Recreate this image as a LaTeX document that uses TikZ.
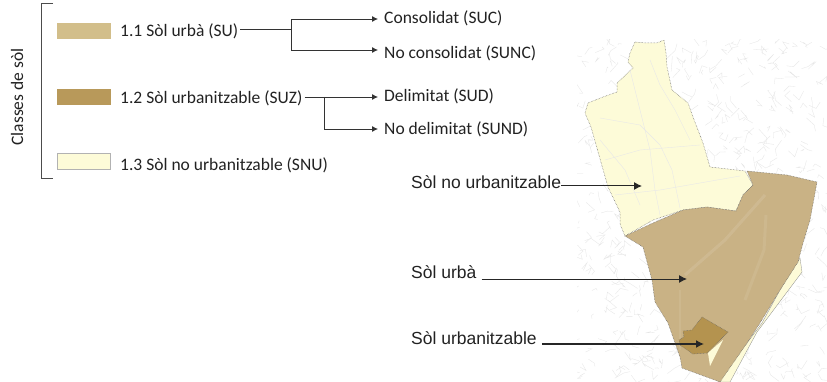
\documentclass[tikz,border=0pt]{standalone}
\usepackage{fontspec}
\setmainfont{Carlito}
\newfontfamily\arialfont{Liberation Sans}
\usetikzlibrary{arrows.meta}
\definecolor{suc}{HTML}{D2BE8A}
\definecolor{suzc}{HTML}{B8995A}
\definecolor{snuc}{HTML}{FDFBD8}
\definecolor{mapsu}{HTML}{C9B285}
\definecolor{mapsuz}{HTML}{B4934F}
\definecolor{txt}{HTML}{222222}
\tikzset{
  legendtxt/.style={anchor=base west,inner sep=0pt,font=\fontsize{17.5}{19}\selectfont,text=txt},
  maptxt/.style={anchor=base west,inner sep=0pt,font=\arialfont\fontsize{17.5}{19}\selectfont,text=txt},
  swatch/.style={anchor=north west,inner sep=0pt,minimum width=54pt,minimum height=16pt},
  link/.style={draw=black!80,line width=0.8pt},
  tiparrow/.style={link,-{Latex[length=6pt,width=6pt]}},
  maparrow/.style={draw=black!85,line width=1pt,-{Latex[length=8pt,width=8pt]}},
  road/.style={draw=black!10,line width=0.3pt},
  border/.style={draw=black!60,line width=0.5pt,densely dotted},
}
\begin{document}
\begin{tikzpicture}[x=1pt,y=-1pt]
\useasboundingbox (0,0) rectangle (827,382);
\fill[white] (0,0) rectangle (827,382);
% background street map texture
\pgfmathsetseed{7}
\begin{scope}
\clip (577,40) rectangle (827,382);
\foreach \i in {1,...,620}{
  \pgfmathsetmacro{\xa}{577+rnd*250}
  \pgfmathsetmacro{\ya}{40+rnd*342}
  \pgfmathsetmacro{\xb}{\xa+(rnd-0.5)*18}
  \pgfmathsetmacro{\yb}{\ya+(rnd-0.5)*18}
  \pgfmathsetmacro{\xc}{\xb+(rnd-0.5)*14}
  \pgfmathsetmacro{\yc}{\yb+(rnd-0.5)*14}
  \draw[road] (\xa,\ya) -- (\xb,\yb) -- (\xc,\yc);
}
\end{scope}
% yellow strip on the right edge
\fill[snuc,draw=black!45,line width=0.3pt] (800,258) -- (802,272) -- (787,292) -- (757,332) -- (730,382) -- (718,382) -- (747,343) -- (762,323) -- (780,290) -- cycle;
% no urbanitzable
\path[fill=snuc,border] (635,42) -- (646,43) -- (657,43) -- (664,40) -- (666,53) -- (667,67) -- (672,90) -- (688,103) -- (693,117) -- (703,143) -- (710,167) -- (745,171) -- (753,185) -- (743,195) -- (736,211) -- (707,207) -- (683,210) -- (653,220) -- (625,236) -- (620,224) -- (620,212) -- (608,187) -- (591,127) -- (585,113) -- (588,103) -- (603,97) -- (617,92) -- (617,83) -- (633,68) -- (628,62) -- (630,53) -- cycle;
% faint roads in the yellow area
\begin{scope}[draw=black!9,line width=0.4pt]
\draw (600,118) -- (640,125) -- (660,145) -- (672,170) -- (680,208);
\draw (630,70) -- (640,110) -- (650,150) -- (655,190) -- (660,215);
\draw (605,160) -- (640,150) -- (700,145);
\draw (615,195) -- (660,190) -- (740,176);
\draw (650,60) -- (660,85) -- (675,110) -- (690,140);
\draw (600,140) -- (625,170) -- (640,205);
\end{scope}
% urba
\path[fill=mapsu,border] (747,171) -- (787,175) -- (817,182) -- (810,220) -- (803,243) -- (798,262) -- (780,290) -- (760,323) -- (747,343) -- (720,382) -- (682,368) -- (680,357) -- (668,323) -- (655,302) -- (652,280) -- (643,247) -- (625,236) -- (653,223) -- (683,210) -- (707,207) -- (736,211) -- (743,195) -- (753,185) -- cycle;
\draw[white,opacity=0.10,line width=3pt] (685,275) -- (725,240) -- (765,195);
\draw[white,opacity=0.08,line width=3pt] (766,215) -- (764,250) -- (745,300);
\draw[white,opacity=0.08,line width=2pt] (680,290) -- (680,350);
% urbanitzable
\path[fill=mapsuz,border] (702,317) -- (728,332) -- (718,342) -- (707,353) -- (693,354) -- (680,345) -- (679,340) -- (684,337) -- (683,331) -- (692,330) -- cycle;
\fill[snuc] (723,340) -- (710,366) -- (708,353) -- (717,345) -- cycle;
% bracket
\draw[black!70,line width=0.8pt] (53,3) -- (41,3) -- (41,178) -- (53,178);
\node[rotate=90,inner sep=0pt,font=\fontsize{17.5}{19}\selectfont,text=txt] (classes) at (17,97) {Classes de sòl};
% swatches
\node[swatch,fill=suc] (s1) at (57,23) {};
\node[swatch,fill=suzc] (s2) at (57,89) {};
\node[swatch,fill=snuc,draw=black!30,line width=0.4pt,minimum width=53pt] (s3) at (57,153) {};
% legend
\node[legendtxt] (su) at (120,37) {1.1 Sòl urbà (SU)};
\node[legendtxt] (suz) at (120,104) {1.2 Sòl urbanitzable (SUZ)};
\node[legendtxt] (snu) at (120,171) {1.3 Sòl no urbanitzable (SNU)};
\node[legendtxt] (suc) at (384,24) {Consolidat (SUC)};
\node[legendtxt] (sunc) at (384,59) {No consolidat (SUNC)};
\node[legendtxt] (sud) at (384,102) {Delimitat (SUD)};
\node[legendtxt] (sund) at (384,135) {No delimitat (SUND)};
% connectors
\coordinate (ja) at (291,29);
\coordinate (jb) at (324,97);
\coordinate (ea) at (378,19);
\coordinate (eb) at (378,50);
\coordinate (ec) at (378,97);
\coordinate (ed) at (378,129);
\draw[link] (su.east |- ja) ++(2,0) -- (ja);
\draw[tiparrow] (ja) |- (ea);
\draw[tiparrow] (ja) |- (eb);
\draw[link] (suz.east |- jb) ++(2,0) -- (jb);
\draw[tiparrow] (jb) -- (ec);
\draw[tiparrow] (jb) |- (ed);
% map labels
\node[maptxt] (lnu) at (411,189) {Sòl no urbanitzable};
\node[maptxt] (lu) at (411,278) {Sòl urbà};
\node[maptxt] (luz) at (411,344) {Sòl urbanitzable};
\coordinate (tnu) at (642,186);
\coordinate (tu) at (687,279);
\coordinate (tuz) at (704,344);
\draw[maparrow] (lnu.east |- tnu) -- (tnu);
\draw[maparrow] ([xshift=5pt]lu.east |- tu) -- (tu);
\draw[maparrow,line width=1.4pt] ([xshift=5pt]luz.east |- tuz) -- (tuz);
\end{tikzpicture}
\end{document}
